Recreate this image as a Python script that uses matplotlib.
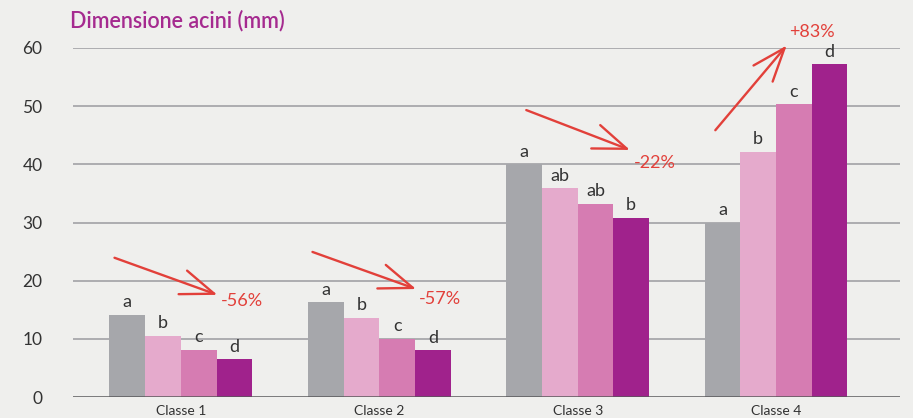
import numpy as np
import matplotlib
matplotlib.use("Agg")
import matplotlib.pyplot as plt

plt.rcParams['font.family'] = ['Lato', 'DejaVu Sans']

# data
classes = ["Classe 1", "Classe 2", "Classe 3", "Classe 4"]
serie_a = [14.1, 16.3, 40.0, 30.0]
serie_b = [10.5, 13.6, 35.9, 42.1]
serie_c = [8.1, 10.0, 33.2, 50.3]
serie_d = [6.5, 8.0, 30.8, 57.2]
letters = [
    ["a", "b", "c", "d"],
    ["a", "b", "c", "d"],
    ["a", "ab", "ab", "b"],
    ["a", "b", "c", "d"],
]
variations = ["-56%", "-57%", "-22%", "+83%"]
yticks = [0, 10, 20, 30, 40, 50, 60]

# arrow annotations (tail, tip, label position) in data units
arrow_tail = [(-0.348, 24.1), (0.650, 25.1), (1.728, 49.5), (2.685, 45.5)]
arrow_tip = [(0.197, 17.4), (1.199, 18.4), (2.277, 42.3), (3.063, 60.8)]
label_pos = [(0.202, 16.5), (1.199, 16.8), (2.282, 40.2), (3.068, 62.7)]

colors = ["#a6a7ab", "#e5aacc", "#d67cb2", "#a0228c"]
red = "#e2403a"
bg = "#efefed"

fig = plt.figure(figsize=(9.13, 4.18), dpi=100, facecolor=bg)
ax = fig.add_axes([73 / 913, 21 / 418, 827 / 913, 349 / 418])
ax.set_facecolor(bg)

x = np.arange(len(classes))
w = 0.18
series = [serie_a, serie_b, serie_c, serie_d]

# grid lines
for t in yticks[1:]:
    ax.axhline(t, color="#a8a8ab", lw=1.3, zorder=0)
ax.axhline(0, color="#58585a", lw=1.8, zorder=3)

for i, vals in enumerate(series):
    pos = x + (i - 1.5) * w
    ax.bar(pos, vals, width=w, color=colors[i], zorder=2)
    for j, v in enumerate(vals):
        ax.text(pos[j], v + 0.8, letters[j][i], ha="center", va="bottom",
                fontsize=13, color="#333333")

for k in range(len(variations)):
    ax.annotate("", xy=arrow_tip[k], xytext=arrow_tail[k],
                arrowprops=dict(arrowstyle="->,head_length=2.0,head_width=0.75",
                                color=red, lw=1.7, mutation_scale=12),
                annotation_clip=False)
    ax.text(label_pos[k][0], label_pos[k][1], variations[k], ha="left",
            va="center", fontsize=13, color=red, clip_on=False)

ax.set_xlim(-0.544, 3.625)
ax.set_ylim(0, 60)
ax.set_yticks(yticks)
ax.set_xticks(x)
ax.set_xticklabels(classes, fontsize=10, color="#333333")
ax.tick_params(axis="x", length=0, pad=6)
ax.tick_params(axis="y", length=0, pad=22, labelsize=12.5, labelcolor="#333333")
for s in ax.spines.values():
    s.set_visible(False)

fig.text(70 / 913, 1 - 10 / 418, "Dimensione acini (mm)", ha="left", va="top",
         fontsize=15.5, color="#a52a8f", fontweight="semibold")

fig.savefig("out.png", dpi=100, facecolor=bg)
